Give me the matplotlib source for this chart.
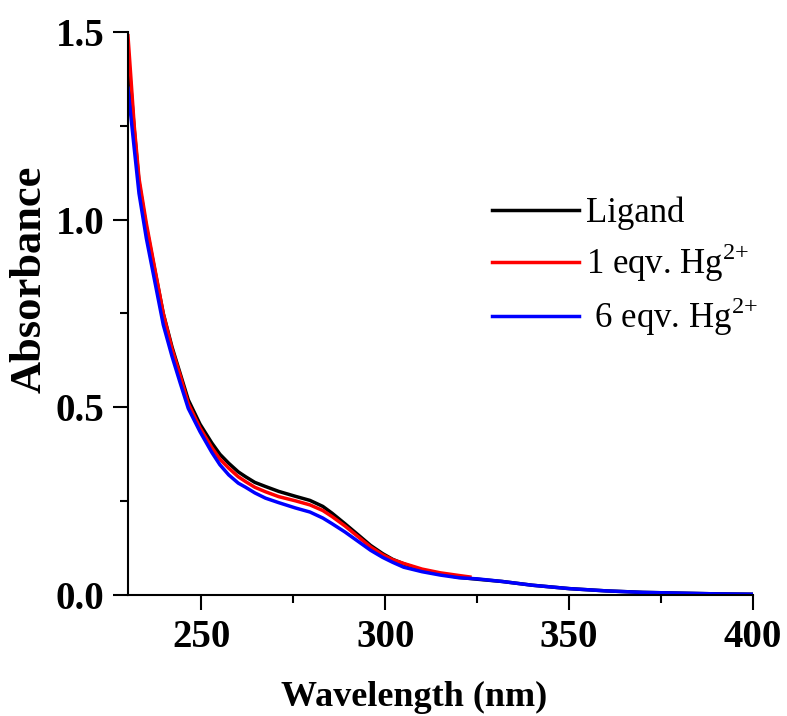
import matplotlib
matplotlib.use('Agg')
import matplotlib.pyplot as plt
from matplotlib.ticker import MultipleLocator, FormatStrFormatter

# UV-vis absorbance
wl_ligand = [230, 231.7, 233, 235, 237, 239.6, 242, 244.2, 246.4, 249.6, 252.8, 255, 257.4, 260,
             262, 264.5, 267.4, 271, 275.5, 279.5, 283, 285.5, 289, 293, 296, 299.3, 302, 305, 310,
             315, 320, 325, 331.8, 340, 350, 360, 370, 380, 390, 400]
abs_ligand = [1.45, 1.24, 1.10, 0.98, 0.88, 0.75, 0.66, 0.59, 0.52, 0.455, 0.405, 0.375, 0.351, 0.328,
              0.315, 0.300, 0.289, 0.276, 0.263, 0.252, 0.236, 0.218, 0.19, 0.157, 0.132, 0.11, 0.095, 0.083, 0.066,
              0.056, 0.047, 0.042, 0.036, 0.026, 0.017, 0.011, 0.007, 0.005, 0.003, 0.002]

wl_1eq = [230, 231.7, 233, 235, 237, 239.6, 242, 244.2, 246.4, 249.6, 252.8, 255, 257.4, 260,
          262, 264.5, 267.4, 271, 275.5, 279.5, 283, 285.5, 289, 293, 296, 299.3, 302, 305, 310,
          315, 320, 323]
abs_1eq = [1.49, 1.25, 1.11, 0.99, 0.885, 0.75, 0.655, 0.585, 0.51, 0.445, 0.393, 0.362, 0.338, 0.315,
           0.302, 0.287, 0.275, 0.262, 0.251, 0.240, 0.225, 0.209, 0.184, 0.152, 0.128, 0.107, 0.094, 0.084, 0.069,
           0.059, 0.052, 0.048]

wl_6eq = wl_ligand
abs_6eq = [1.35, 1.19, 1.07, 0.95, 0.85, 0.72, 0.635, 0.565, 0.497, 0.435, 0.38, 0.347, 0.32, 0.298,
           0.287, 0.272, 0.258, 0.246, 0.232, 0.221, 0.205, 0.19, 0.168, 0.14, 0.119, 0.1, 0.087, 0.074, 0.062,
           0.053, 0.046, 0.043, 0.036, 0.026, 0.017, 0.011, 0.007, 0.005, 0.003, 0.002]

plt.rcParams['font.family'] = ['Liberation Serif', 'DejaVu Serif']
plt.rcParams['mathtext.fontset'] = 'custom'
plt.rcParams['mathtext.rm'] = 'Liberation Serif'

fig = plt.figure(figsize=(7.87, 7.16), dpi=100)
ax = fig.add_axes([0.1626, 0.169, 0.7942, 0.7864])

ax.plot(wl_ligand, abs_ligand, color='black', lw=2.5, label='Ligand')
ax.plot(wl_1eq, abs_1eq, color='#ff0000', lw=2.5, label='1 eqv. Hg$^{2{+}}$')
ax.plot(wl_6eq, abs_6eq, color='#0000ff', lw=2.5, label=' 6 eqv. Hg$^{2{+}}$')

ax.set_xlim(230, 400)
ax.set_ylim(0, 1.5)
ax.xaxis.set_major_locator(MultipleLocator(50))
ax.xaxis.set_minor_locator(MultipleLocator(25))
ax.yaxis.set_major_locator(MultipleLocator(0.5))
ax.yaxis.set_minor_locator(MultipleLocator(0.25))
ax.yaxis.set_major_formatter(FormatStrFormatter('%.1f'))

for s in ['top', 'right']:
    ax.spines[s].set_visible(False)
for s in ['left', 'bottom']:
    ax.spines[s].set_linewidth(1.5)

ax.tick_params(which='major', direction='out', length=11, width=1.5, labelsize=28, pad=6)
ax.tick_params(which='minor', direction='out', length=6, width=1.5)
for lab in ax.get_xticklabels() + ax.get_yticklabels():
    lab.set_fontweight('bold')

ax.set_xlabel('Wavelength (nm)', fontsize=26, fontweight='bold')
ax.xaxis.set_label_coords(0.4576, -0.1528)
ax.set_ylabel('Absorbance', fontsize=32, fontweight='bold')
ax.yaxis.set_label_coords(-0.126, 0.56)

ax.legend(loc='upper left', bbox_to_anchor=(0.533, 0.7625), frameon=False, fontsize=25,
          handlelength=2.5, handletextpad=0.2, labelspacing=0.32, borderaxespad=0.5)

plt.savefig('out.png', dpi=100)
